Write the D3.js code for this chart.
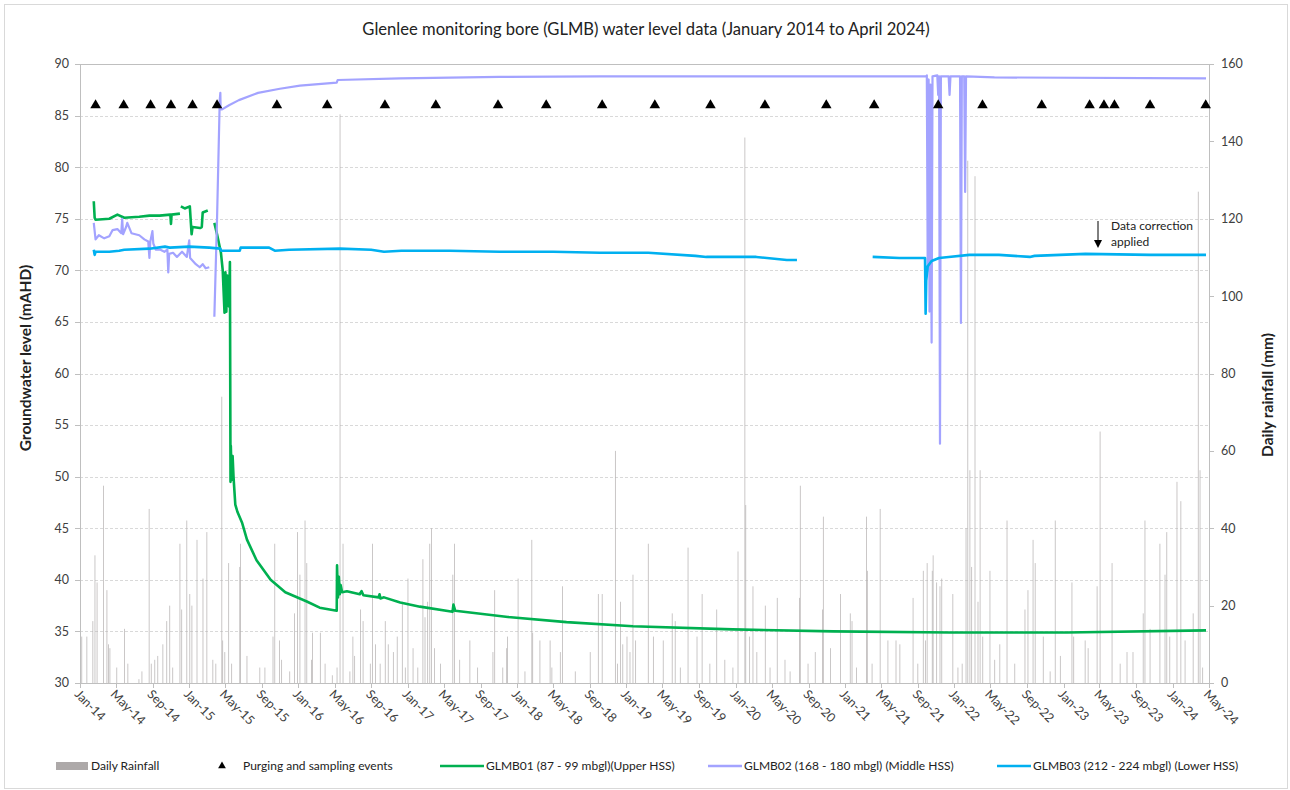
<!DOCTYPE html>
<html>
<head>
<meta charset="utf-8">
<script src="https://cdn.jsdelivr.net/npm/d3@7"></script>
<style>
  body { margin: 0; background: #fff; }
  svg { font-family: Lato, "Open Sans", sans-serif; }
</style>
</head>
<body>
<svg id="chart" width="1290" height="790"></svg>
<script>
// ---- data ----
const glmb01 = [
  ['2014-02-16', 76.7], ['2014-02-19', 75.1], ['2014-02-22', 74.9], ['2014-04-09', 75.0], ['2014-05-06', 75.4],
  ['2014-05-29', 75.1], ['2014-07-18', 75.2], ['2014-08-21', 75.3], ['2014-09-24', 75.3], ['2014-10-30', 75.4],
  ['2014-11-01', 74.5], ['2014-11-03', 75.4], ['2014-12-01', 75.5], null,
  ['2014-12-04', 76.2], ['2014-12-17', 76.0], ['2015-01-03', 76.2], ['2015-01-09', 73.5], ['2015-01-12', 74.2],
  ['2015-02-06', 74.1], ['2015-02-12', 74.2], ['2015-02-15', 75.6], ['2015-03-04', 75.8], null,
  ['2015-03-26', 74.6], ['2015-04-04', 73.5], ['2015-04-17', 71.7], ['2015-04-23', 70.0], ['2015-04-29', 65.9],
  ['2015-05-02', 69.8], ['2015-05-05', 66.0], ['2015-05-08', 69.5], ['2015-05-14', 66.5], ['2015-05-17', 70.8],
  ['2015-05-19', 49.5], ['2015-05-20', 53.0], ['2015-05-23', 49.7], ['2015-05-26', 52.0], ['2015-05-29', 50.0],
  ['2015-06-04', 47.3], ['2015-06-11', 46.6], ['2015-06-27', 45.5], ['2015-07-13', 43.9], ['2015-08-14', 41.9],
  ['2015-09-30', 40.0], ['2015-11-18', 38.8], ['2016-01-29', 37.9], ['2016-03-12', 37.3], ['2016-05-08', 37.0],
  ['2016-05-09', 41.4], ['2016-05-12', 38.3], ['2016-05-15', 40.3], ['2016-05-18', 38.6], ['2016-05-21', 39.5],
  ['2016-05-26', 38.8], ['2016-06-11', 38.9], ['2016-07-24', 38.6], ['2016-07-30', 38.9], ['2016-08-05', 38.5],
  ['2016-09-25', 38.3], ['2016-09-28', 38.6], ['2016-10-01', 38.2], ['2016-10-13', 38.3], ['2016-12-06', 37.8],
  ['2017-02-10', 37.4], ['2017-05-30', 36.9], ['2017-06-02', 37.6], ['2017-06-08', 37.0], ['2017-12-01', 36.4],
  ['2018-06-15', 35.9], ['2019-01-23', 35.5], ['2019-12-22', 35.2], ['2020-11-22', 35.0], ['2021-12-17', 34.9],
  ['2023-01-12', 34.9], ['2024-04-21', 35.1]
];

const glmb02 = [
  ['2014-02-16', 74.6], ['2014-02-22', 73.0], ['2014-03-05', 73.4], ['2014-03-23', 73.1], ['2014-04-09', 73.3],
  ['2014-04-20', 73.9], ['2014-05-06', 74.0], ['2014-05-19', 73.6], ['2014-05-22', 75.0], ['2014-05-25', 73.5],
  ['2014-06-04', 74.2], ['2014-06-08', 74.6], ['2014-06-22', 73.6], ['2014-07-18', 73.4], ['2014-08-04', 73.0],
  ['2014-08-17', 72.8], ['2014-08-21', 71.2], ['2014-08-24', 72.8], ['2014-08-31', 73.8], ['2014-09-03', 72.6],
  ['2014-09-11', 72.0], ['2014-09-27', 72.0], ['2014-10-10', 71.8], ['2014-10-20', 72.0], ['2014-10-23', 69.8],
  ['2014-10-26', 71.6], ['2014-11-08', 71.7], ['2014-11-21', 71.3], ['2014-12-08', 71.8], ['2014-12-24', 71.3],
  ['2015-01-01', 72.9], ['2015-01-04', 71.2], ['2015-01-23', 70.6], ['2015-02-05', 70.3], ['2015-02-15', 70.6],
  ['2015-02-25', 70.2], ['2015-03-09', 70.3], null,
  ['2015-03-26', 65.5], ['2015-04-04', 75.0], ['2015-04-13', 86.5], ['2015-04-15', 87.2], ['2015-04-16', 85.6],
  ['2015-04-21', 85.6], ['2015-05-14', 86.0], ['2015-06-16', 86.5], ['2015-08-19', 87.2], ['2015-10-31', 87.6],
  ['2016-01-06', 87.9], ['2016-05-08', 88.2], ['2016-05-11', 88.45], ['2016-12-06', 88.6], ['2017-11-03', 88.75],
  ['2018-10-04', 88.8], ['2021-09-28', 88.8], ['2021-10-01', 88.9], ['2021-10-04', 70.0], ['2021-10-07', 88.5],
  ['2021-10-10', 66.0], ['2021-10-13', 88.0], ['2021-10-17', 63.0], ['2021-10-20', 88.8], ['2021-11-05', 88.9],
  ['2021-11-08', 87.0], ['2021-11-11', 88.8], ['2021-11-14', 53.2], ['2021-11-17', 88.8], ['2021-12-13', 88.8],
  ['2021-12-16', 87.0], ['2021-12-19', 88.8], ['2022-01-20', 88.8], ['2022-01-23', 64.9], ['2022-01-26', 88.8],
  ['2022-02-03', 88.8], ['2022-02-06', 77.6], ['2022-02-09', 88.8], ['2022-05-15', 88.7], ['2024-04-21', 88.6]
];

const glmb03 = [
  ['2014-02-16', 72.0], ['2014-02-19', 71.5], ['2014-02-22', 71.8], ['2014-04-09', 71.8], ['2014-05-12', 71.9],
  ['2014-05-29', 72.0], ['2014-08-21', 72.1], ['2014-10-12', 72.3], ['2014-10-28', 72.2], ['2015-01-01', 72.3],
  ['2015-03-09', 72.2], ['2015-04-15', 72.1], ['2015-04-18', 71.9], ['2015-06-19', 71.9], ['2015-06-22', 72.2],
  ['2015-09-25', 72.2], ['2015-10-14', 71.9], ['2015-12-01', 72.0], ['2016-05-19', 72.1], ['2016-08-31', 72.0],
  ['2016-10-13', 71.8], ['2016-12-10', 71.9], ['2017-05-20', 71.9], ['2017-11-03', 71.8], ['2018-05-01', 71.8],
  ['2018-10-04', 71.7], ['2019-03-15', 71.7], ['2019-08-20', 71.4], ['2019-09-25', 71.3], ['2020-03-10', 71.3],
  ['2020-06-20', 71.0], ['2020-07-24', 71.0], null,
  ['2021-04-03', 71.3], ['2021-07-01', 71.2], ['2021-09-25', 71.2], ['2021-09-27', 65.8], ['2021-09-29', 69.0],
  ['2021-10-04', 70.4], ['2021-10-17', 70.9], ['2021-11-11', 71.2], ['2021-12-13', 71.3], ['2022-02-20', 71.5],
  ['2022-05-30', 71.5], ['2022-09-10', 71.3], ['2022-09-26', 71.4], ['2022-12-20', 71.5], ['2023-03-15', 71.6],
  ['2023-10-17', 71.5], ['2024-04-21', 71.5]
];

const samplingEvents = [
  '2014-02-22', '2014-05-27', '2014-08-25', '2014-11-01', '2015-01-12', '2015-04-04', '2015-10-21',
  '2016-04-06', '2016-10-16', '2017-04-04', '2017-10-29', '2018-04-08', '2018-10-12', '2019-04-06',
  '2019-10-09', '2020-04-08', '2020-10-30', '2021-04-08', '2021-11-08', '2022-04-05', '2022-10-20',
  '2023-03-29', '2023-05-16', '2023-06-20', '2023-10-17', '2024-04-20'
];

// daily rainfall (mm), only the days that show a visible column
const rainfall = [
  ['2014-01-03', 5], ['2014-01-07', 12], ['2014-01-24', 12], ['2014-02-13', 16], ['2014-02-20', 33],
  ['2014-02-27', 26], ['2014-03-21', 51], ['2014-04-01', 24], ['2014-04-06', 10], ['2014-04-11', 9],
  ['2014-05-04', 4], ['2014-05-30', 14], ['2014-06-10', 5], ['2014-07-17', 1], ['2014-07-27', 3],
  ['2014-08-20', 45], ['2014-08-27', 5], ['2014-09-08', 6], ['2014-09-18', 7], ['2014-10-05', 10],
  ['2014-10-18', 16], ['2014-10-28', 20], ['2014-11-07', 4], ['2014-12-01', 36], ['2014-12-07', 19],
  ['2014-12-24', 42], ['2015-01-03', 23], ['2015-01-10', 20], ['2015-01-27', 37], ['2015-02-16', 27],
  ['2015-03-01', 39], ['2015-03-21', 6], ['2015-03-31', 5], ['2015-04-20', 74], ['2015-04-23', 11],
  ['2015-04-30', 8], ['2015-05-13', 31], ['2015-05-23', 5], ['2015-06-19', 30], ['2015-06-21', 36],
  ['2015-07-13', 7], ['2015-08-25', 4], ['2015-09-11', 4], ['2015-10-08', 12], ['2015-10-14', 36],
  ['2015-10-30', 11], ['2015-11-06', 6], ['2015-12-03', 3], ['2015-12-19', 18], ['2015-12-29', 39],
  ['2016-01-06', 28], ['2016-01-23', 42], ['2016-01-29', 31], ['2016-02-14', 6], ['2016-02-17', 13],
  ['2016-03-14', 13], ['2016-03-30', 5], ['2016-04-23', 2], ['2016-05-09', 4], ['2016-05-19', 147],
  ['2016-05-29', 36], ['2016-06-21', 3], ['2016-07-01', 12], ['2016-07-07', 7], ['2016-07-26', 19],
  ['2016-08-04', 16], ['2016-08-28', 5], ['2016-09-04', 36], ['2016-09-14', 10], ['2016-09-30', 5],
  ['2016-10-17', 16], ['2016-10-27', 10], ['2016-11-13', 8], ['2016-11-26', 12], ['2016-12-13', 21],
  ['2016-12-23', 4], ['2017-01-01', 27], ['2017-01-18', 9], ['2017-02-03', 4], ['2017-02-20', 32],
  ['2017-02-27', 17], ['2017-03-08', 21], ['2017-03-15', 36], ['2017-03-21', 40], ['2017-03-31', 9],
  ['2017-04-20', 5], ['2017-05-31', 28], ['2017-06-06', 36], ['2017-06-23', 6], ['2017-07-27', 11],
  ['2017-08-22', 4], ['2017-10-12', 8], ['2017-10-18', 24], ['2017-11-14', 4], ['2017-11-27', 9],
  ['2017-11-30', 12], ['2018-01-04', 27], ['2018-01-27', 3], ['2018-02-19', 37], ['2018-02-22', 13],
  ['2018-03-18', 11], ['2018-04-21', 11], ['2018-04-27', 4], ['2018-05-25', 8], ['2018-06-01', 25],
  ['2018-07-14', 3], ['2018-09-02', 8], ['2018-09-29', 23], ['2018-10-12', 23], ['2018-11-25', 60],
  ['2018-12-02', 5], ['2018-12-12', 21], ['2018-12-20', 10], ['2019-01-03', 12], ['2019-01-13', 8],
  ['2019-01-23', 28], ['2019-02-01', 11], ['2019-03-15', 36], ['2019-04-01', 12], ['2019-05-04', 11],
  ['2019-06-03', 18], ['2019-06-13', 16], ['2019-06-30', 4], ['2019-07-26', 35], ['2019-08-25', 12],
  ['2019-09-11', 23], ['2019-10-07', 5], ['2019-10-30', 19], ['2019-11-26', 6], ['2019-12-23', 4],
  ['2020-01-09', 34], ['2020-02-01', 141], ['2020-02-04', 46], ['2020-02-17', 12], ['2020-02-28', 25],
  ['2020-03-12', 8], ['2020-04-09', 20], ['2020-04-25', 4], ['2020-05-19', 22], ['2020-06-14', 6],
  ['2020-07-01', 3], ['2020-08-01', 22], ['2020-08-04', 51], ['2020-08-30', 5], ['2020-09-23', 8],
  ['2020-10-17', 19], ['2020-10-20', 43], ['2020-11-13', 9], ['2020-12-16', 23], ['2021-01-18', 18],
  ['2021-01-24', 16], ['2021-02-08', 4], ['2021-03-13', 43], ['2021-03-16', 29], ['2021-04-01', 5],
  ['2021-04-28', 45], ['2021-05-24', 11], ['2021-06-20', 11], ['2021-07-03', 10], ['2021-08-16', 22],
  ['2021-09-01', 5], ['2021-09-19', 29], ['2021-09-26', 11], ['2021-10-02', 31], ['2021-10-19', 29],
  ['2021-10-22', 33], ['2021-11-03', 26], ['2021-11-14', 25], ['2021-11-20', 27], ['2021-12-27', 23],
  ['2022-01-13', 4], ['2022-01-27', 5], ['2022-02-09', 40], ['2022-02-15', 135], ['2022-02-22', 55],
  ['2022-02-28', 30], ['2022-03-11', 131], ['2022-03-21', 21], ['2022-03-28', 55], ['2022-04-06', 12],
  ['2022-04-30', 29], ['2022-05-16', 6], ['2022-06-02', 10], ['2022-06-26', 42], ['2022-07-22', 5],
  ['2022-08-25', 19], ['2022-09-04', 24], ['2022-09-21', 37], ['2022-09-28', 31], ['2022-10-25', 12],
  ['2022-11-17', 3], ['2022-12-04', 42], ['2022-12-21', 7], ['2023-01-29', 26], ['2023-02-04', 12],
  ['2023-03-14', 11], ['2023-03-24', 9], ['2023-04-23', 25], ['2023-05-03', 65], ['2023-06-12', 31],
  ['2023-07-09', 5], ['2023-08-01', 8], ['2023-08-21', 8], ['2023-09-24', 18], ['2023-09-30', 42],
  ['2023-10-17', 14], ['2023-11-19', 36], ['2023-12-06', 28], ['2023-12-12', 39], ['2023-12-22', 12],
  ['2024-01-15', 52], ['2024-01-28', 47], ['2024-02-11', 11], ['2024-03-09', 18], ['2024-03-26', 127],
  ['2024-04-01', 55], ['2024-04-10', 4]
];

const yTicksLeft = [30, 35, 40, 45, 50, 55, 60, 65, 70, 75, 80, 85, 90];
const yTicksRight = [0, 20, 40, 60, 80, 100, 120, 140, 160];

const seriesNames = [
  'GLMB01 (87 - 99 mbgl)(Upper HSS)',
  'GLMB02 (168 - 180 mbgl) (Middle HSS)',
  'GLMB03 (212 - 224 mbgl) (Lower HSS)'
];
const seriesColors = ['#00B050', '#A3A3FF', '#00B0F0'];

// ---- scales ----
const parse = d3.timeParse('%Y-%m-%d');
const svg = d3.select('#chart');

const plot = { left: 80, right: 1209, top: 64, bottom: 683 };

const x = d3.scaleTime()
  .domain([parse('2014-01-01'), parse('2024-05-01')])
  .range([plot.left, plot.right]);
const yL = d3.scaleLinear().domain([30, 90]).range([plot.bottom, plot.top]);
const yR = d3.scaleLinear().domain([0, 160]).range([plot.bottom, plot.top]);

// outer frame
svg.append('rect')
  .attr('x', 4.5).attr('y', 4.5).attr('width', 1283).attr('height', 784)
  .attr('fill', '#fff').attr('stroke', '#D9D9D9')

// title
svg.append('text')
  .attr('x', 646).attr('y', 35)
  .attr('text-anchor', 'middle')
  .attr('font-size', 16.6)
  .attr('fill', '#222')
  .text('Glenlee monitoring bore (GLMB) water level data (January 2014 to April 2024)')

// gridlines
svg.append('g').selectAll('line')
  .data(yTicksLeft.filter(d => d > 30))
  .join('line')
  .attr('x1', plot.left).attr('x2', plot.right)
  .attr('y1', d => Math.round(yL(d)) + 0.5).attr('y2', d => Math.round(yL(d)) + 0.5)
  .attr('stroke', d => d === 90 ? '#BFBFBF' : '#D9D9D9')
  .attr('stroke-dasharray', d => d === 90 ? null : '3,2')

// rainfall columns (right axis)
svg.append('g').selectAll('rect')
  .data(rainfall)
  .join('rect')
  .attr('x', d => x(parse(d[0])) - 0.35)
  .attr('width', 0.7)
  .attr('y', d => yR(d[1]))
  .attr('height', d => plot.bottom - yR(d[1]))
  .attr('fill', '#B3AFAF')

// axes lines
const axisColor = '#BFBFBF';
svg.append('line').attr('x1', plot.left + 0.5).attr('x2', plot.left + 0.5)
  .attr('y1', plot.top).attr('y2', plot.bottom).attr('stroke', axisColor)
svg.append('line').attr('x1', plot.right + 0.5).attr('x2', plot.right + 0.5)
  .attr('y1', plot.top).attr('y2', plot.bottom).attr('stroke', axisColor)
svg.append('line').attr('x1', plot.left).attr('x2', plot.right + 1)
  .attr('y1', plot.bottom + 0.5).attr('y2', plot.bottom + 0.5).attr('stroke', axisColor)

// left axis
const left = svg.append('g')
left.selectAll('line').data(yTicksLeft).join('line')
  .attr('x1', plot.left - 5).attr('x2', plot.left)
  .attr('y1', d => Math.round(yL(d)) + 0.5).attr('y2', d => Math.round(yL(d)) + 0.5)
  .attr('stroke', axisColor)
left.selectAll('text').data(yTicksLeft).join('text')
  .attr('x', 69).attr('y', d => yL(d)).attr('dy', '0.35em')
  .attr('text-anchor', 'end').attr('font-size', 12.5).attr('fill', '#404040')
  .text(d => d)

// right axis
const right = svg.append('g')
right.selectAll('line').data(yTicksRight).join('line')
  .attr('x1', plot.right).attr('x2', plot.right + 5)
  .attr('y1', d => Math.round(yR(d)) + 0.5).attr('y2', d => Math.round(yR(d)) + 0.5)
  .attr('stroke', axisColor)
right.selectAll('text').data(yTicksRight).join('text')
  .attr('x', 1221).attr('y', d => yR(d)).attr('dy', '0.35em')
  .attr('text-anchor', 'start').attr('font-size', 12.5).attr('fill', '#404040')
  .text(d => d)

// bottom axis - every 4 months, labels slanted
const xTicks = x.ticks(d3.timeMonth.every(4));
const fmt = d3.timeFormat('%b-%y');
const bottom = svg.append('g')
bottom.selectAll('line').data(xTicks).join('line')
  .attr('x1', d => Math.round(x(d)) + 0.5).attr('x2', d => Math.round(x(d)) + 0.5)
  .attr('y1', plot.bottom).attr('y2', plot.bottom + 5)
  .attr('stroke', axisColor)
bottom.selectAll('text').data(xTicks).join('text')
  .attr('transform', d => `translate(${x(d) - 3},${plot.bottom + 9}) rotate(45)`)
  .attr('dy', '0.35em')
  .attr('text-anchor', 'start').attr('font-size', 12.5).attr('fill', '#404040')
  .text(d => fmt(d))

// axis titles
svg.append('text')
  .attr('transform', 'translate(31,358) rotate(-90)')
  .attr('text-anchor', 'middle').attr('font-size', 15.5).attr('font-weight', 'bold').attr('fill', '#222')
  .text('Groundwater level (mAHD)')
svg.append('text')
  .attr('transform', 'translate(1273,395) rotate(-90)')
  .attr('text-anchor', 'middle').attr('font-size', 15.5).attr('font-weight', 'bold').attr('fill', '#222')
  .text('Daily rainfall (mm)')

// water level lines
const line = d3.line()
  .defined(d => d !== null)
  .x(d => x(parse(d[0])))
  .y(d => yL(d[1]))

const lineGroup = svg.append('g').attr('fill', 'none').attr('stroke-linejoin', 'round')
;[glmb01, glmb02, glmb03].forEach((data, i) => {
  lineGroup.append('path')
    .attr('d', line(data))
    .attr('stroke', seriesColors[i])
    .attr('stroke-width', i === 1 ? 2.2 : 2.6)
})

// purging / sampling triangles at 86 mAHD
const tri = d3.symbol().type(d3.symbolTriangle).size(48);
svg.append('g').selectAll('path')
  .data(samplingEvents)
  .join('path')
  .attr('d', tri)
  .attr('transform', d => `translate(${x(parse(d))},${yL(86)})`)
  .attr('fill', '#000')

// annotation
const ax = 1098;
svg.append('line').attr('x1', ax).attr('x2', ax).attr('y1', 221).attr('y2', 241)
  .attr('stroke', '#000').attr('stroke-width', 1)
svg.append('path').attr('d', `M${ax - 4},240 L${ax + 4},240 L${ax},248 Z`).attr('fill', '#000')
svg.append('text').attr('x', 1111).attr('y', 230).attr('font-size', 12).attr('fill', '#222')
  .text('Data correction')
svg.append('text').attr('x', 1111).attr('y', 246).attr('font-size', 12).attr('fill', '#222')
  .text('applied')

// legend
const legY = 766;
const legend = svg.append('g').attr('font-size', 12).attr('fill', '#222')
legend.append('rect').attr('x', 56).attr('y', legY - 4).attr('width', 32).attr('height', 8).attr('fill', '#ADA9A9')
legend.append('text').attr('x', 91).attr('y', legY).attr('dy', '0.35em').text('Daily Rainfall')
legend.append('path').attr('d', d3.symbol().type(d3.symbolTriangle).size(26))
  .attr('transform', `translate(222,${legY})`).attr('fill', '#000')
legend.append('text').attr('x', 243).attr('y', legY).attr('dy', '0.35em').text('Purging and sampling events')

const legPos = [[440, 486], [708, 744], [997, 1033]];
seriesNames.forEach((name, i) => {
  legend.append('line')
    .attr('x1', legPos[i][0]).attr('x2', legPos[i][1] - 2)
    .attr('y1', legY).attr('y2', legY)
    .attr('stroke', seriesColors[i]).attr('stroke-width', 2.6)
  legend.append('text').attr('x', legPos[i][1]).attr('y', legY).attr('dy', '0.35em').text(name)
})
</script>
</body>
</html>
